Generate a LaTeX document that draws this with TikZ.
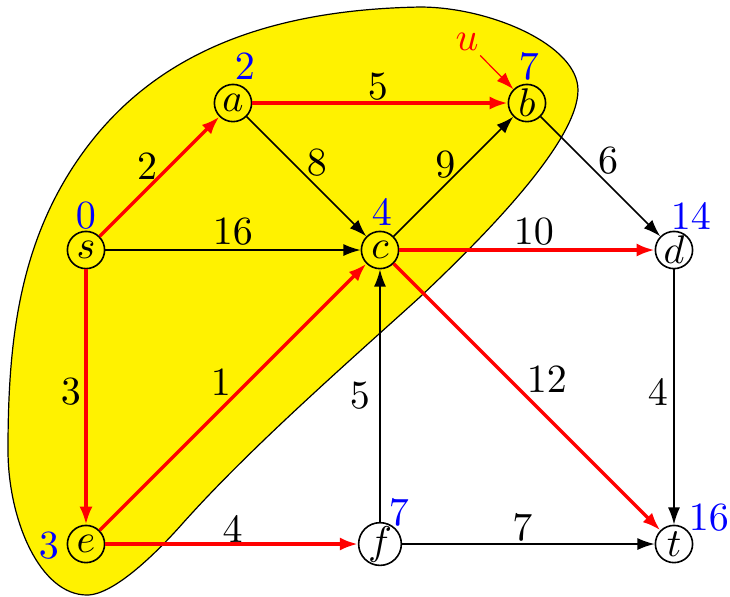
\documentclass[tikz,border=0pt]{standalone}
\usetikzlibrary{arrows.meta}
\tikzset{
  v/.style={circle, draw, inner sep=0pt, minimum size=9.3pt},
  blk/.style={-{Latex[length=4.3pt,width=3pt]}, line width=0.4pt},
  rd/.style={-{Latex[length=4.5pt,width=3.3pt]}, red, line width=0.85pt},
  lbl/.style={inner sep=0pt, text=black},
  dist/.style={blue, inner sep=0pt},
  blob/.style={fill=yellow, draw=black, line width=0.3pt},
}
\begin{document}
\begin{tikzpicture}[x=36.75pt, y=36.75pt]
\useasboundingbox (-0.585,-2.354) rectangle (4.381,1.701);
% yellow region (drawn in pixel-like coordinates)
\begin{scope}[shift={(-0.585,1.7007)}, x=0.25pt, y=-0.25pt]
\draw[blob] (87,595) .. controls (40,595) and (8,520) .. (8,450)
  .. controls (8,350) and (17,253) .. (73,167)
  .. controls (140,64) and (250,10) .. (420,7)
  .. controls (490,7) and (578,45) .. (578,90)
  .. controls (578,140) and (490,231) .. (420,297)
  .. controls (346,364) and (250,448) .. (183,523)
  .. controls (160,549) and (115,595) .. (87,595) -- cycle;
\end{scope}
% vertices
\node[v] (s) at (0,0) {$s$};
\node[v] (a) at (1,1) {$a$};
\node[v] (b) at (3,1) {$b$};
\node[v] (c) at (2,0) {$c$};
\node[v] (d) at (4,0) {$d$};
\node[v] (e) at (0,-2) {$e$};
\node[v] (f) at (2,-2) {$f$};
\node[v] (t) at (4,-2) {$t$};
% edges
\draw[rd] (s) -- node[lbl, xshift=-3.1pt, yshift=2.6pt] (l1) {$2$} (a);
\draw[rd] (a) -- node[lbl, xshift=-0.5pt, yshift=4pt] (l2) {$5$} (b);
\draw[blk] (a) -- node[lbl, xshift=2.6pt, yshift=3.4pt] (l3) {$8$} (c);
\draw[blk] (s) -- node[lbl, xshift=0pt, yshift=4.5pt] (l4) {$16$} (c);
\draw[blk] (c) -- node[lbl, xshift=-2pt, yshift=2.9pt] (l5) {$9$} (b);
\draw[blk] (b) -- node[lbl, xshift=1.9pt, yshift=4.1pt] (l6) {$6$} (d);
\draw[rd] (c) -- node[lbl, xshift=1.75pt, yshift=4.5pt] (l7) {$10$} (d);
\draw[rd] (s) -- node[lbl, xshift=-3.75pt, yshift=1.25pt] (l8) {$3$} (e);
\draw[rd] (e) -- node[lbl, xshift=-3pt, yshift=3.5pt] (l9) {$1$} (c);
\draw[rd] (c) -- node[lbl, xshift=5pt, yshift=4.25pt] (l10) {$12$} (t);
\draw[blk] (f) -- node[lbl, xshift=-5pt, yshift=0pt] (l11) {$5$} (c);
\draw[blk] (d) -- node[lbl, xshift=-4pt, yshift=1pt] (l12) {$4$} (t);
\draw[rd] (e) -- node[lbl, xshift=0.25pt, yshift=3.5pt] (l13) {$4$} (f);
\draw[blk] (f) -- node[lbl, xshift=-1.5pt, yshift=4pt] (l14) {$7$} (t);
% distances
\node[dist] (ds) at ([shift={(0pt,8.5pt)}]s) {$0$};
\node[dist] (da) at ([shift={(3pt,9pt)}]a) {$2$};
\node[dist] (db) at ([shift={(0.5pt,9pt)}]b) {$7$};
\node[dist] (dc) at ([shift={(0.5pt,9.4pt)}]c) {$4$};
\node[dist] (dd) at ([shift={(4.25pt,8.25pt)}]d) {$14$};
\node[dist] (de) at ([shift={(-9.25pt,-0.4pt)}]e) {$3$};
\node[dist] (df) at ([shift={(4.75pt,7.75pt)}]f) {$7$};
\node[dist] (dt) at ([shift={(8.75pt,6.5pt)}]t) {$16$};
% u marker
\node[red, inner sep=1pt] (u) at ([shift={(-15pt,15.25pt)}]b) {$u$};
\draw[red, line width=0.3pt, -{Latex[length=4.3pt,width=3pt]}] (u) -- (b);
\end{tikzpicture}
\end{document}
